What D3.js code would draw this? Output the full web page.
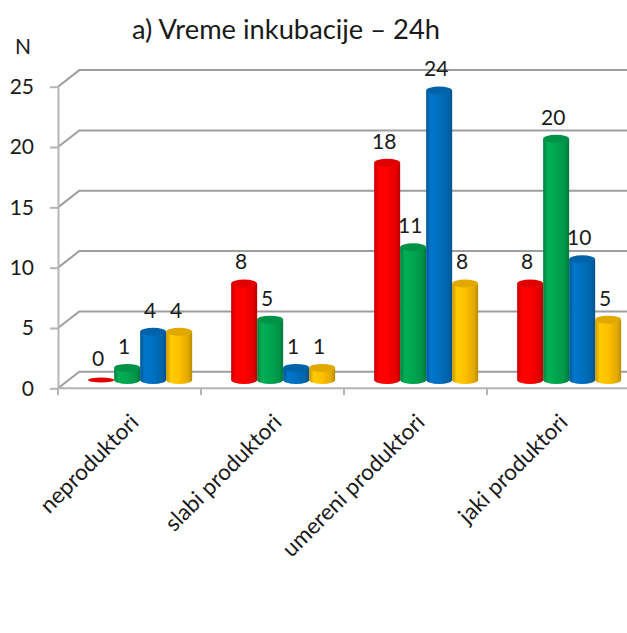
<!DOCTYPE html>
<html>
<head>
<meta charset="utf-8">
<script src="https://cdn.jsdelivr.net/npm/d3@7"></script>
<style>
  body { margin: 0; background: #fff; }
  text { font-family: Lato, "Noto Sans", sans-serif; fill: #1a1a1a; }
</style>
</head>
<body>
<div class="chart"></div>
<script>
var categories = ["neproduktori", "slabi produktori", "umereni produktori", "jaki produktori"];
var seriesKeys = ["red", "green", "blue", "yellow"];
var redValues = [0, 8, 18, 8];
var greenValues = [1, 5, 11, 20];
var blueValues = [4, 1, 24, 10];
var yellowValues = [4, 1, 8, 5];
var yTicks = [0, 5, 10, 15, 20, 25];
var colors = ["#ff0000", "#00a650", "#0070c0", "#ffc000"];

function init() {
    var w = 627;
    var h = 633;
    var depthX = 21.3, depthY = -16.6;   // offset of back wall vs front

    var seriesValues = [redValues, greenValues, blueValues, yellowValues];

    var svg = d3.select(".chart").append("svg")
        .attr("width", w)
        .attr("height", h);

    var defs = svg.append("defs");
    colors.forEach(function (c, i) {
        var g = defs.append("linearGradient")
            .attr("id", "cyl" + i)
            .attr("x1", "0%").attr("x2", "100%").attr("y1", "0%").attr("y2", "0%");
        var col = d3.color(c);
        [[0, col.darker(0.7)], [0.18, col.brighter(0.15)], [0.5, col], [0.85, col.darker(0.35)], [1, col.darker(0.9)]]
            .forEach(function (s) {
                g.append("stop").attr("offset", s[0]).attr("stop-color", s[1]);
            });
    });

    var x0 = d3.scaleBand().domain(categories).range([58, 630]);
    var x1 = d3.scaleBand().domain(seriesKeys).range([0, x0.bandwidth()]).paddingOuter(0.75);
    var y = d3.scaleLinear().domain([0, 25]).range([388.3, 86.7]);

    // back wall grid lines with the diagonal to the front axis
    svg.append("g").selectAll("path")
        .data(yTicks)
        .enter().append("path")
        .attr("d", function (d) {
            return "M58," + y(d) + "L" + (58 + depthX) + "," + (y(d) + depthY) + "L" + w + "," + (y(d) + depthY);
        })
        .style("fill", "none")
        .style("stroke", "#9e9e9e")
        .style("stroke-width", 2);

    // front floor line
    svg.append("line")
        .attr("x1", 58).attr("x2", w)
        .attr("y1", y(0)).attr("y2", y(0))
        .style("stroke", "#b5b5b5").style("stroke-width", 2);

    // y axis
    var yAxis = d3.axisLeft(y).tickValues(yTicks).tickSize(8).tickSizeOuter(0).tickPadding(16);
    var ya = svg.append("g")
        .attr("transform", "translate(58,0)")
        .call(yAxis);
    ya.select(".domain").style("stroke", "#b5b5b5").style("stroke-width", 2);
    ya.selectAll(".tick line").style("stroke", "#b5b5b5").style("stroke-width", 2);
    ya.selectAll(".tick text")
        .style("font-size", "21px")
        .style("font-family", "Lato")
        .attr("fill", "#1a1a1a");

    // category tick marks
    var bounds = categories.map(function (c) { return x0(c); }).concat([x0.range()[1]]);
    svg.append("g").selectAll("line")
        .data(bounds)
        .enter().append("line")
        .attr("x1", function (d) { return d; })
        .attr("x2", function (d) { return d; })
        .attr("y1", y(0))
        .attr("y2", y(0) + 7)
        .style("stroke", "#b5b5b5").style("stroke-width", 2);

    // cylinders
    var rx = x1.bandwidth() / 2, ry = 4;
    var bars = [];
    categories.forEach(function (c, ci) {
        seriesKeys.forEach(function (s, si) {
            bars.push({ ci: ci, si: si, cat: c, key: s, value: seriesValues[si][ci] });
        });
    });

    var barG = svg.append("g").attr("transform", "translate(" + depthX / 2 + "," + depthY / 2 + ")");

    bars.forEach(function (d) {
        var xl = x0(d.cat) + x1(d.key);
        var xr = xl + x1.bandwidth();
        var cx = xl + rx;
        var yb = y(0), yt = y(d.value);
        var g = barG.append("g");
        if (d.value > 0) {
            g.append("path")
                .attr("d", "M" + xl + "," + yt + "L" + xl + "," + yb +
                    "A" + rx + "," + ry + " 0 0 0 " + xr + "," + yb +
                    "L" + xr + "," + yt + "Z")
                .style("fill", "url(#cyl" + d.si + ")");
        }
        g.append("ellipse")
            .attr("cx", cx).attr("cy", yt)
            .attr("rx", rx).attr("ry", d.value > 0 ? ry : 2.5)
            .style("fill", d3.color(colors[d.si]).darker(0.35));

        svg.append("text")
            .attr("x", cx + depthX / 2 - 3)
            .attr("y", yt + depthY / 2 - 14)
            .attr("text-anchor", "middle")
            .style("font-size", "21px")
            .text(d.value);
    });

    // category labels
    categories.forEach(function (c) {
        var cx = x0(c) + x0.bandwidth() / 2;
        svg.append("text")
            .attr("transform", "translate(" + (cx + 5) + ",418) rotate(-45)")
            .attr("text-anchor", "end")
            .attr("dy", "0.35em")
            .style("font-size", "22.5px")
            .text(c);
    });

    // title and axis name
    var title = svg.append("text")
        .attr("x", 286)
        .attr("y", 39)
        .attr("text-anchor", "middle")
        .style("font-size", "22px")
        .text("a) Vreme inkubacije \u2013 24h");
    var tw = title.node().getComputedTextLength();
    title.style("font-size", (22 * 308 / tw) + "px");

    svg.append("text")
        .attr("x", 15)
        .attr("y", 54)
        .style("font-size", "21px")
        .text("N");
}

init();
</script>
</body>
</html>
